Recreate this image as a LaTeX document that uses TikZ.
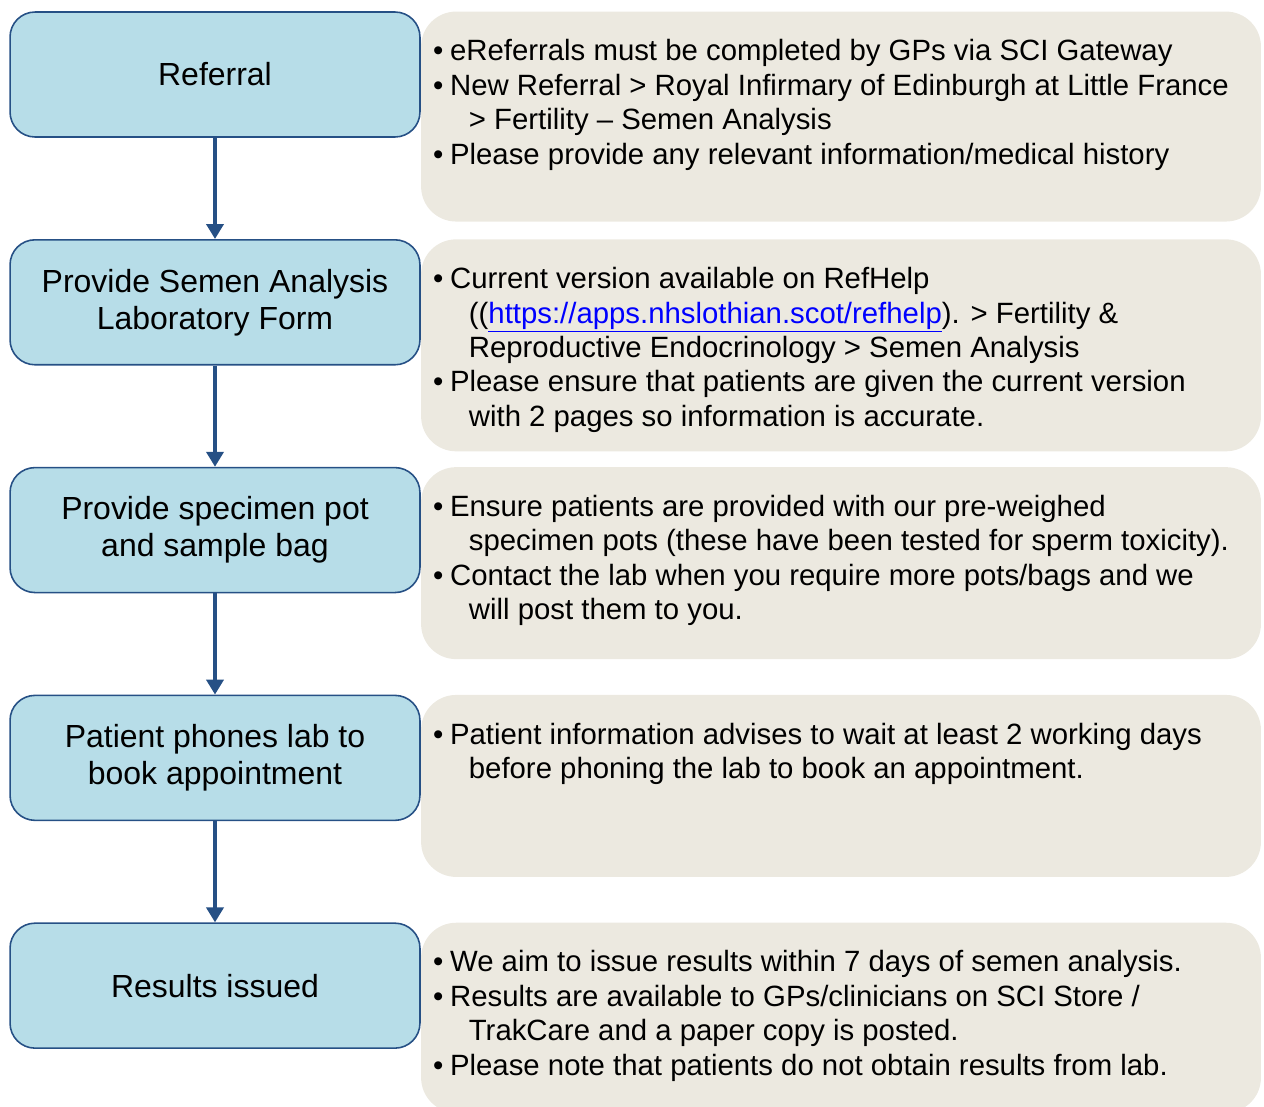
\documentclass[tikz,border=0pt]{standalone}
\usepackage{fontspec}
\setmainfont{Liberation Sans}
\usetikzlibrary{arrows.meta,positioning,backgrounds}

\definecolor{stepfill}{RGB}{183,221,232}
\definecolor{stepline}{RGB}{38,80,133}
\definecolor{notefill}{RGB}{236,233,224}
\newcommand{\bul}{\makebox[0.58em][l]{\textbullet}}
\newcommand{\ind}{\hspace*{1.22em}}

\begin{document}
\begin{tikzpicture}[
    x=0.02cm, y=-0.02cm,
    node distance=2.025cm,
    stepbox/.style={rectangle, draw=stepline, line width=0.9pt, rounded corners=0.5cm, fill=stepfill, minimum width=8.2cm, minimum height=2.5cm, align=center, font=\fontsize{18.2}{21}\selectfont},
    notebox/.style={rectangle, fill=notefill, rounded corners=0.7cm, minimum width=16.8cm, anchor=north west, inner sep=0pt},
    notetext/.style={anchor=north west, inner sep=0pt, align=left, font=\fontsize{16.7}{19.6}\selectfont},
    arrow/.style={-{Triangle[length=0.3cm, width=0.34cm]}, line width=0.08cm, stepline}
]
\useasboundingbox (0,0) rectangle (1264,1106);

% Left column: the steps
\node[stepbox] (ref) at (215,74.5) {Referral};
\node[stepbox, below=of ref] (form) {Provide Semen Analysis\\Laboratory Form};
\node[stepbox, below=of form] (pot) {Provide specimen pot\\and sample bag};
\node[stepbox, below=of pot] (phone) {Patient phones lab to\\book appointment};
\node[stepbox, below=of phone] (res) {Results issued};

\draw[arrow] (ref) -- (form);
\draw[arrow] (form) -- (pot);
\draw[arrow] (pot) -- (phone);
\draw[arrow] (phone) -- (res);

% Right column: notes behind the steps
\begin{scope}[on background layer]
\node[notebox, minimum height=4.2cm] (refnote) at (ref.north east) {};
\node[notebox, minimum height=4.24cm] (formnote) at (form.north east) {};
\node[notebox, minimum height=3.84cm] (potnote) at (pot.north east) {};
\node[notebox, minimum height=3.64cm] (phonenote) at (phone.north east) {};
\node[notebox, minimum height=3.8cm] (resnote) at (res.north east) {};
\end{scope}

\node[notetext] (reftext) at ([xshift=0.24cm, yshift=-0.56cm]refnote.north west)
  {\bul eReferrals must be completed by GPs via SCI Gateway\\
   \bul New Referral > Royal Infirmary of Edinburgh at Little France\\
   \ind > Fertility – Semen Analysis\\
   \bul Please provide any relevant information/medical history};
\node[notetext] (formtext) at ([xshift=0.24cm, yshift=-0.56cm]formnote.north west)
  {\bul Current version available on RefHelp\\
   \ind ((\textcolor{blue}{\underline{https://apps.nhslothian.scot/refhelp}}). > Fertility \&\\
   \ind Reproductive Endocrinology > Semen Analysis\\
   \bul Please ensure that patients are given the current version\\
   \ind with 2 pages so information is accurate.};
\node[notetext] (pottext) at ([xshift=0.24cm, yshift=-0.56cm]potnote.north west)
  {\bul Ensure patients are provided with our pre-weighed\\
   \ind specimen pots (these have been tested for sperm toxicity).\\
   \bul Contact the lab when you require more pots/bags and we\\
   \ind will post them to you.};
\node[notetext] (phonetext) at ([xshift=0.24cm, yshift=-0.56cm]phonenote.north west)
  {\bul Patient information advises to wait at least 2 working days\\
   \ind before phoning the lab to book an appointment.};
\node[notetext] (restext) at ([xshift=0.24cm, yshift=-0.56cm]resnote.north west)
  {\bul We aim to issue results within 7 days of semen analysis.\\
   \bul Results are available to GPs/clinicians on SCI Store /\\
   \ind TrakCare and a paper copy is posted.\\
   \bul Please note that patients do not obtain results from lab.};

\end{tikzpicture}
\end{document}
